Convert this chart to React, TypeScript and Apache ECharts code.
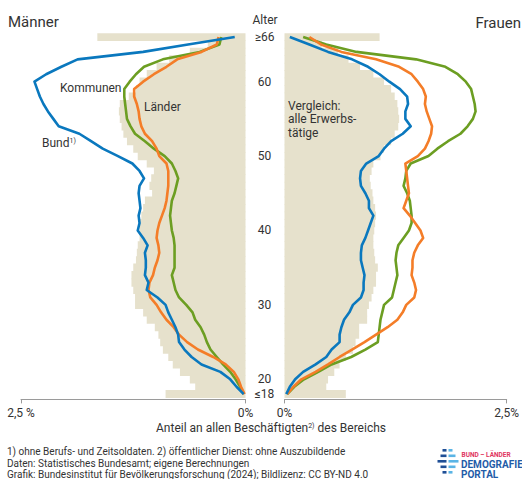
import React, { useEffect, useRef } from "react";
import * as echarts from "echarts";

// Ages from ≤18 (bottom) to ≥66 (top)
const ages = [
  "≤18", "19", "20", "21", "22", "23", "24", "25", "26", "27",
  "28", "29", "30", "31", "32", "33", "34", "35", "36", "37",
  "38", "39", "40", "41", "42", "43", "44", "45", "46", "47",
  "48", "49", "50", "51", "52", "53", "54", "55", "56", "57",
  "58", "59", "60", "61", "62", "63", "64", "65", "≥66",
];
const ageTickLabels = ["≤18", "20", "30", "40", "50", "60", "≥66"];
const xTickLabelsLeft = ["0%", "2,5 %"];
const xTickLabelsRight = ["0%", "2,5%"];

// Männer (left panel), values in %
const erwM = [
  0.89, 0.56, 0.62, 0.73, 0.81, 0.86, 0.92, 0.95, 0.97, 1.01,
  1.10, 1.14, 1.23, 1.23, 1.25, 1.27, 1.27, 1.25, 1.22, 1.21,
  1.20, 1.18, 1.18, 1.18, 1.16, 1.14, 1.12, 1.04, 1.07, 1.05,
  1.02, 1.10, 1.20, 1.25, 1.32, 1.36, 1.38, 1.40, 1.41, 1.40,
  1.30, 1.22, 1.18, 1.10, 0.99, 0.85, 0.62, 0.42, 1.65,
];
const bundM = [
  0.02, 0.10, 0.17, 0.28, 0.49, 0.60, 0.68, 0.74, 0.75, 0.78,
  0.82, 0.86, 0.89, 0.98, 1.10, 1.08, 1.12, 1.11, 1.11, 1.12,
  1.09, 1.14, 1.20, 1.18, 1.19, 1.17, 1.18, 1.19, 1.18, 1.13,
  1.18, 1.26, 1.42, 1.59, 1.72, 1.85, 2.08, 2.14, 2.20, 2.25,
  2.29, 2.32, 2.35, 2.22, 2.05, 1.87, 1.14, 0.64, 0.12,
];
const laenderM = [
  0.01, 0.05, 0.08, 0.13, 0.22, 0.36, 0.53, 0.65, 0.74, 0.80,
  0.88, 0.94, 0.99, 1.06, 1.08, 1.07, 1.03, 1.01, 0.98, 0.96,
  0.97, 0.99, 0.98, 0.96, 0.93, 0.90, 0.88, 0.87, 0.86, 0.86,
  0.86, 0.88, 0.96, 0.99, 1.04, 1.12, 1.16, 1.18, 1.19, 1.21,
  1.24, 1.24, 1.14, 1.02, 0.88, 0.76, 0.49, 0.32, 0.30,
];
const kommunenM = [
  0.02, 0.06, 0.11, 0.17, 0.25, 0.32, 0.39, 0.43, 0.46, 0.50,
  0.56, 0.59, 0.66, 0.74, 0.78, 0.80, 0.82, 0.79, 0.79, 0.79,
  0.79, 0.80, 0.82, 0.83, 0.84, 0.83, 0.82, 0.79, 0.77, 0.75,
  0.78, 0.82, 0.90, 1.02, 1.12, 1.23, 1.28, 1.32, 1.33, 1.34,
  1.35, 1.35, 1.29, 1.22, 1.13, 0.92, 0.51, 0.29, 0.27,
];

// Frauen (right panel), values in %
const erwF = [
  0.69, 0.47, 0.49, 0.56, 0.62, 0.69, 0.77, 0.80, 0.84, 0.84,
  0.93, 0.93, 0.95, 0.98, 1.00, 1.03, 1.03, 1.05, 1.02, 1.01,
  1.00, 1.00, 1.01, 1.02, 1.03, 1.02, 1.00, 0.99, 0.97, 0.96,
  0.98, 1.00, 1.08, 1.12, 1.20, 1.24, 1.28, 1.29, 1.28, 1.27,
  1.24, 1.20, 1.12, 1.00, 0.85, 0.72, 0.60, 0.42, 1.07,
];
const bundF = [
  0.02, 0.06, 0.12, 0.21, 0.35, 0.47, 0.53, 0.62, 0.62, 0.64,
  0.67, 0.73, 0.77, 0.86, 0.89, 0.89, 0.90, 0.88, 0.86, 0.86,
  0.87, 0.91, 0.94, 0.97, 1.00, 0.95, 0.95, 0.91, 0.86, 0.85,
  0.86, 0.92, 1.06, 1.12, 1.20, 1.33, 1.42, 1.36, 1.36, 1.39,
  1.38, 1.30, 1.18, 1.07, 0.94, 0.76, 0.49, 0.28, 0.06,
];
const laenderF = [
  0.03, 0.10, 0.19, 0.35, 0.49, 0.62, 0.76, 0.90, 1.03, 1.16,
  1.27, 1.33, 1.37, 1.46, 1.48, 1.46, 1.43, 1.44, 1.44, 1.46,
  1.50, 1.56, 1.53, 1.47, 1.41, 1.34, 1.37, 1.40, 1.39, 1.38,
  1.37, 1.36, 1.50, 1.58, 1.62, 1.65, 1.66, 1.63, 1.60, 1.58,
  1.59, 1.56, 1.50, 1.43, 1.29, 1.03, 0.64, 0.41, 0.28,
];
const kommunenF = [
  0.03, 0.11, 0.22, 0.38, 0.53, 0.75, 0.91, 1.05, 1.06, 1.07,
  1.08, 1.10, 1.12, 1.21, 1.23, 1.25, 1.27, 1.26, 1.25, 1.26,
  1.28, 1.34, 1.40, 1.43, 1.43, 1.42, 1.41, 1.38, 1.34, 1.36,
  1.37, 1.42, 1.62, 1.72, 1.84, 1.98, 2.06, 2.12, 2.15, 2.14,
  2.12, 2.10, 2.04, 1.95, 1.81, 1.48, 0.81, 0.47, 0.21,
];

const FONT = "Roboto, 'Noto Sans', 'DejaVu Sans', sans-serif";
const TEXT = "#333333";
const BEIGE = "#e6e1cc";
const BLUE = "#0a78be";
const ORANGE = "#f47d28";
const GREEN = "#6c9e22";
const AXIS = "#9a9a9a";

const GRID_TOP = 33.3;
const GRID_H = 364.6;

function lineSeries(name: string, values: number[], color: string, idx: number) {
  return {
    name,
    type: "line",
    xAxisIndex: idx,
    yAxisIndex: idx,
    data: values.map((v, i) => [v, ages[i]]),
    symbol: "none",
    showSymbol: false,
    silent: true,
    lineStyle: { color, width: 2.6, join: "round" },
    z: 3,
  };
}

function barSeries(values: number[], idx: number) {
  return {
    type: "bar",
    xAxisIndex: idx,
    yAxisIndex: idx,
    data: values,
    barCategoryGap: "0%",
    // slightly wider than the band so neighbouring bars overlap (no seams)
    barWidth: 8.2,
    silent: true,
    itemStyle: { color: BEIGE },
    z: 1,
  };
}

function xAxis(idx: number, inverse: boolean, labels: string[]) {
  return {
    type: "value",
    gridIndex: idx,
    min: 0,
    max: 2.5,
    interval: 2.5,
    inverse,
    offset: 1.5,
    axisLine: { show: true, lineStyle: { color: AXIS, width: 1 } },
    axisTick: { show: true, length: 4, lineStyle: { color: AXIS } },
    splitLine: { show: false },
    axisLabel: {
      margin: 8,
      color: TEXT,
      fontSize: 12,
      fontFamily: FONT,
      formatter: (v: number) => (v === 0 ? labels[0] : labels[1]),
    },
  };
}

export default function App() {
  const ref = useRef<HTMLDivElement>(null);

  useEffect(() => {
    if (!ref.current) return;
    const chart = echarts.init(ref.current, null, { renderer: "svg" });

    const txt = (text: string, x: number, y: number, size: number, extra: any = {}) => ({
      type: "text",
      x,
      y,
      z: 100,
      silent: true,
      style: {
        text,
        fill: TEXT,
        fontSize: size,
        fontFamily: FONT,
        textVerticalAlign: "middle",
        ...extra,
      },
    });

    const iconRows = [
      { y: 449, dl: 4, ll: 4 },
      { y: 454.5, dl: 6, ll: 7 },
      { y: 460, dl: 9, ll: 10 },
      { y: 465.5, dl: 6, ll: 7 },
      { y: 471, dl: 4, ll: 4 },
    ];
    const iconEls: any[] = [];
    iconRows.forEach((r) => {
      iconEls.push({
        type: "rect",
        z: 100,
        silent: true,
        shape: { x: 446.5 - r.dl, y: r.y, width: r.dl, height: 2.6 },
        style: { fill: "#1f4f96" },
      });
      iconEls.push({
        type: "rect",
        z: 100,
        silent: true,
        shape: { x: 448.5, y: r.y, width: r.ll, height: 2.6 },
        style: { fill: "#5ab4e5" },
      });
    });

    const supRich = {
      sup: { fontSize: 7, fontFamily: FONT, fill: TEXT, verticalAlign: "top", lineHeight: 8 },
    };

    const option: any = {
      animation: false,
      grid: [
        { left: 21, width: 224.5, top: GRID_TOP, height: GRID_H },
        { left: 284.5, width: 224.5, top: GRID_TOP, height: GRID_H },
      ],
      xAxis: [xAxis(0, true, xTickLabelsLeft), xAxis(1, false, xTickLabelsRight)],
      yAxis: [
        {
          type: "category",
          gridIndex: 0,
          data: ages,
          boundaryGap: true,
          axisLine: { show: false },
          axisTick: { show: false },
          axisLabel: { show: false },
          splitLine: { show: false },
        },
        {
          type: "category",
          gridIndex: 1,
          data: ages,
          boundaryGap: true,
          axisLine: { show: false },
          axisTick: { show: false },
          splitLine: { show: false },
          axisLabel: {
            show: true,
            interval: (_i: number, v: string) => ageTickLabels.indexOf(v) >= 0,
            align: "center",
            margin: 20,
            color: TEXT,
            fontSize: 12,
            fontFamily: FONT,
          },
        },
      ],
      series: [
        barSeries(erwM, 0),
        barSeries(erwF, 1),
        lineSeries("Kommunen", kommunenM, GREEN, 0),
        lineSeries("Länder", laenderM, ORANGE, 0),
        lineSeries("Bund", bundM, BLUE, 0),
        lineSeries("Kommunen", kommunenF, GREEN, 1),
        lineSeries("Länder", laenderF, ORANGE, 1),
        lineSeries("Bund", bundF, BLUE, 1),
      ],
      graphic: [
        txt("Männer", 8, 22, 15),
        txt("Frauen", 521, 23, 15, { textAlign: "right" }),
        txt("Alter", 265, 20, 12, { textAlign: "center" }),
        txt("Kommunen", 60, 88, 12),
        txt("Länder", 144, 107, 12),
        {
          type: "text",
          x: 42,
          y: 143,
          z: 100,
          silent: true,
          style: {
            text: "Bund{sup|1)}",
            fill: TEXT,
            fontSize: 12,
            fontFamily: FONT,
            textVerticalAlign: "middle",
            rich: supRich,
          },
        },
        {
          type: "text",
          x: 288,
          y: 99,
          z: 100,
          silent: true,
          style: {
            text: "Vergleich:\nalle Erwerbs-\ntätige",
            fill: TEXT,
            fontSize: 12,
            lineHeight: 13.5,
            fontFamily: FONT,
            textVerticalAlign: "top",
          },
        },
        {
          type: "text",
          x: 271,
          y: 428,
          z: 100,
          silent: true,
          style: {
            text: "Anteil an allen Beschäftigten{sup|2)} des Bereichs",
            fill: TEXT,
            fontSize: 12,
            fontFamily: FONT,
            textAlign: "center",
            textVerticalAlign: "middle",
            rich: supRich,
          },
        },
        txt("1) ohne Berufs- und Zeitsoldaten. 2) öffentlicher Dienst: ohne Auszubildende", 7, 451.5, 10),
        txt("Daten: Statistisches Bundesamt; eigene Berechnungen", 7, 463, 10),
        txt("Grafik: Bundesinstitut für Bevölkerungsforschung (2024); Bildlizenz: CC BY-ND 4.0", 7, 474, 10),
        ...iconEls,
        txt("BUND – LÄNDER", 461.5, 454.5, 6.5, { fill: "#e0365e", fontWeight: "bold" }),
        txt("DEMOGRAFIE", 461, 464, 10, { fill: "#1f5ca8", fontWeight: "bold" }),
        txt("PORTAL", 461, 474.5, 10, { fill: "#1f5ca8", fontWeight: "bold" }),
      ],
    };

    chart.setOption(option);
    return () => chart.dispose();
  }, []);

  return (
    <div
      ref={ref}
      style={{ position: "absolute", left: 0, top: 0, width: 522, height: 479 }}
    />
  );
}
